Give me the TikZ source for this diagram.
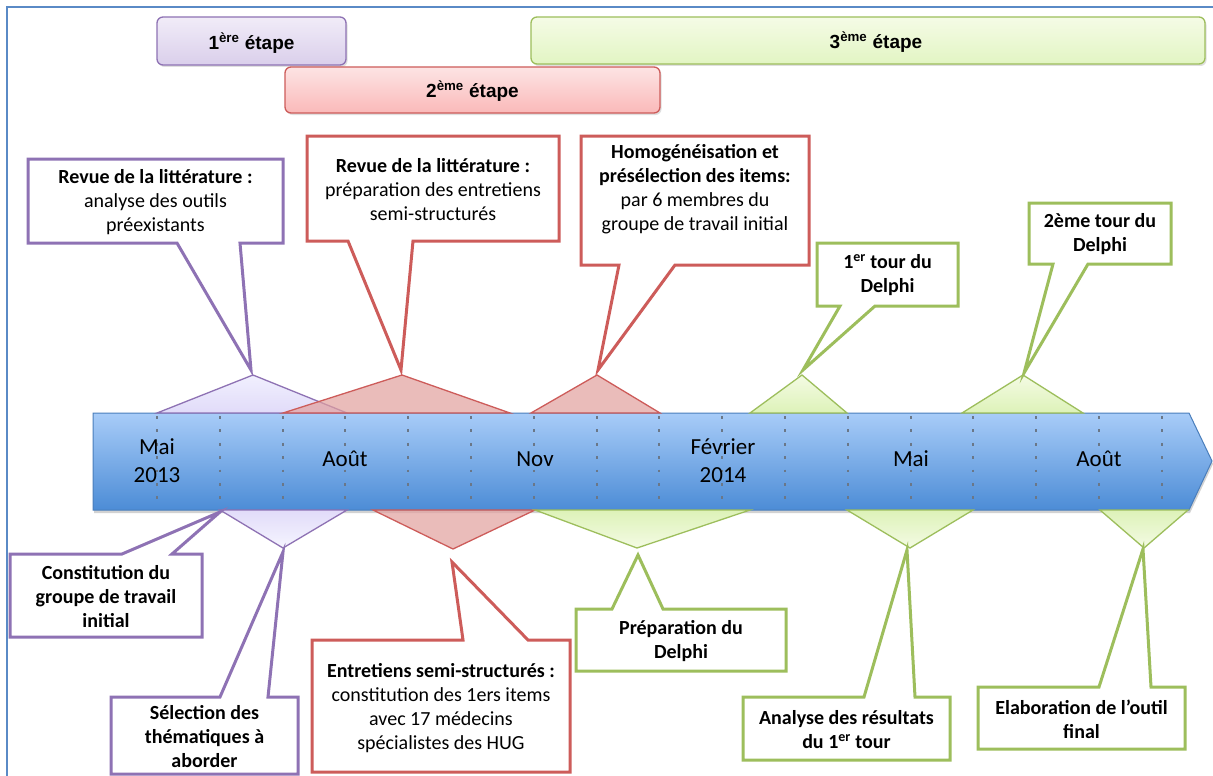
\documentclass[tikz,border=0pt]{standalone}
\usepackage{fontspec}
\setmainfont{Carlito}
\newfontfamily\arialf{Liberation Sans}
\usetikzlibrary{shadows}
\definecolor{purpleB}{HTML}{8E72B4}
\definecolor{redB}{HTML}{CD5C5A}
\definecolor{greenB}{HTML}{9DBE5C}
\definecolor{frameB}{HTML}{5A8AC6}
\definecolor{barB}{HTML}{4A7EBB}
\definecolor{dotC}{HTML}{6A7788}
\tikzset{
  stagebox/.style={rounded corners=6pt, line width=1.3pt, drop shadow={opacity=0.25, shadow xshift=1.5pt, shadow yshift=-2pt}},
  stagetext/.style={font=\arialf\bfseries\fontsize{19}{22}\selectfont, text=black},
  callout/.style={line width=3pt, fill=white, line join=miter},
  ctext/.style={align=center, font=\fontsize{20}{24}\selectfont, text=black, inner sep=0pt},
  month/.style={align=center, font=\fontsize{23}{28}\selectfont, text=black, inner sep=0pt},
  gridl/.style={dotC, line width=2.8pt, dash pattern=on 2.8pt off 10.6pt},
  tripu/.style={draw=purpleB, line width=1.3pt, top color=purple!8!blue!6!white, bottom color=purple!22!blue!14!white},
  tripd/.style={draw=purpleB, line width=1.3pt, top color=purple!22!blue!14!white, bottom color=purple!6!blue!4!white},
  trired/.style={draw=redB, line width=1.3pt, fill={rgb,255:red,226;green,160;blue,158}, fill opacity=0.7},
  trigu/.style={draw=greenB, line width=1.3pt, top color={rgb,255:red,244;green,251;blue,228}, bottom color={rgb,255:red,221;green,242;blue,184}},
  trigd/.style={draw=greenB, line width=1.3pt, top color={rgb,255:red,221;green,242;blue,184}, bottom color={rgb,255:red,244;green,251;blue,228}},
}
\begin{document}
\begin{tikzpicture}[x=1pt,y=-1pt]
\useasboundingbox (0,0) rectangle (1213,776);
\fill[white] (0,0) rectangle (1213,776);
% frame
\draw[frameB, line width=1.8pt] (1213,7) -- (7,7) -- (7,776);

% stage boxes
\draw[stagebox, draw=purpleB, top color={rgb,255:red,241;green,236;blue,248}, bottom color={rgb,255:red,218;green,207;blue,235}] (157,17) rectangle (346,65);
\node[stagetext] (s1) at (251.5,43) {1\textsuperscript{ère} étape};
\draw[stagebox, draw=greenB, top color={rgb,255:red,245;green,251;blue,230}, bottom color={rgb,255:red,226;green,245;blue,195}] (531,17) rectangle (1205,64);
\node[stagetext] (s3) at (876,42) {3\textsuperscript{ème} étape};
\draw[stagebox, draw=redB, top color={rgb,255:red,253;green,228;blue,228}, bottom color={rgb,255:red,250;green,185;blue,185}] (285,67) rectangle (660,113);
\node[stagetext] (s2) at (472.5,91) {2\textsuperscript{ème} étape};

% timeline bar
\draw[barB, line width=1pt, top color={rgb,255:red,168;green,204;blue,248}, bottom color={rgb,255:red,76;green,140;blue,214}, drop shadow={opacity=0.35, shadow xshift=1pt, shadow yshift=-3pt}]
  (93,413) -- (1189,413) -- (1212,461) -- (1189,510) -- (93,510) -- cycle;
\foreach \x in {157,220,283,345,408,471,534,597,659,722,785,848,911,973,1036,1099,1162}
  \draw[gridl] (\x,416) -- (\x,509);

% month labels
\node[month] (m1) at (157,461) {Mai\\2013};
\node[month] (m2) at (345,459) {Août};
\node[month] (m3) at (535,459) {Nov};
\node[month] (m4) at (723,461) {Février\\2014};
\node[month] (m5) at (911,459) {Mai};
\node[month] (m6) at (1099,459) {Août};

% triangles above
\draw[tripu] (157,413) -- (253,375) -- (347,413) -- cycle;
\draw[trired] (283,413) -- (402,375) -- (510,413) -- cycle;
\draw[trired] (531,413) -- (597,375) -- (660,413) -- cycle;
\draw[trigu] (750,413) -- (802,375) -- (847,413) -- cycle;
\draw[trigu] (962,413) -- (1023,375) -- (1083,413) -- cycle;
% triangles below
\draw[tripd] (220,510) -- (283,548) -- (347,510) -- cycle;
\draw[trired] (373,510) -- (453,549) -- (535,510) -- cycle;
\draw[trigd] (535,510) -- (637,548) -- (750,510) -- cycle;
\draw[trigd] (847,510) -- (910,548) -- (973,510) -- cycle;
\draw[trigd] (1100,510) -- (1144,548) -- (1188,510) -- cycle;

% top callouts
\draw[callout, draw=purpleB] (28,159) -- (283,159) -- (283,243) -- (240,243) -- (251,370) -- (177,243) -- (28,243) -- cycle;
\node[ctext] (c1) at (155.5,202) {\textbf{Revue de la littérature :}\\analyse des outils\\préexistants};
\draw[callout, draw=redB] (307,136) -- (559,136) -- (559,241) -- (413,241) -- (401,370) -- (348,241) -- (307,241) -- cycle;
\node[ctext] (c2) at (433,190) {\textbf{Revue de la littérature :}\\préparation des entretiens\\semi-structurés};
\draw[callout, draw=redB] (581,136) -- (809,136) -- (809,265) -- (675,265) -- (598,370) -- (619,265) -- (581,265) -- cycle;
\node[ctext] (c3) at (695,189) {\textbf{Homogénéisation et}\\\textbf{présélection des items:}\\par 6 membres du\\groupe de travail initial};
\draw[callout, draw=greenB] (817,243) -- (958,243) -- (958,306) -- (875,306) -- (803,370) -- (840,306) -- (817,306) -- cycle;
\node[ctext, font=\bfseries\fontsize{20}{24}\selectfont] (c4) at (887.5,275) {1\textsuperscript{er} tour du\\Delphi};
\draw[callout, draw=greenB] (1029,203) -- (1171,203) -- (1171,264) -- (1088,264) -- (1024,373) -- (1053,264) -- (1029,264) -- cycle;
\node[ctext, font=\bfseries\fontsize{20}{24}\selectfont] (c5) at (1100,234) {2ème tour du\\Delphi};

% bottom callouts
\draw[callout, draw=purpleB] (10,554) -- (122,554) -- (220,512) -- (172,554) -- (202,554) -- (202,637) -- (10,637) -- cycle;
\node[ctext, font=\bfseries\fontsize{20}{24}\selectfont] (c6) at (106,597) {Constitution du\\groupe de travail\\initial};
\draw[callout, draw=purpleB] (111,697) -- (220,697) -- (283,552) -- (268,697) -- (298,697) -- (298,774) -- (111,774) -- cycle;
\node[ctext, font=\bfseries\fontsize{20}{24}\selectfont] (c7) at (204.5,737) {Sélection des\\thématiques à\\aborder};
\draw[callout, draw=redB] (312,640) -- (463,640) -- (452,562) -- (528,640) -- (570,640) -- (570,772) -- (312,772) -- cycle;
\node[ctext] (c8) at (441,708) {\textbf{Entretiens semi-structurés :}\\constitution des 1ers items\\avec 17 médecins\\spécialistes des HUG};
\draw[callout, draw=greenB] (576,609) -- (612,609) -- (638,555) -- (663,609) -- (786,609) -- (786,671) -- (576,671) -- cycle;
\node[ctext, font=\bfseries\fontsize{20}{24}\selectfont] (c9) at (681,641) {Préparation du\\Delphi};
\draw[callout, draw=greenB] (743,697) -- (864,697) -- (907,550) -- (915,697) -- (950,697) -- (950,760) -- (743,760) -- cycle;
\node[ctext, font=\bfseries\fontsize{20}{24}\selectfont] (c10) at (846.5,730) {Analyse des résultats\\du 1\textsuperscript{er} tour};
\draw[callout, draw=greenB] (978,687) -- (1099,687) -- (1143,549) -- (1151,687) -- (1185,687) -- (1185,749) -- (978,749) -- cycle;
\node[ctext, font=\bfseries\fontsize{20}{24}\selectfont] (c11) at (1081.5,719) {Elaboration de l’outil\\final};
\end{tikzpicture}
\end{document}
